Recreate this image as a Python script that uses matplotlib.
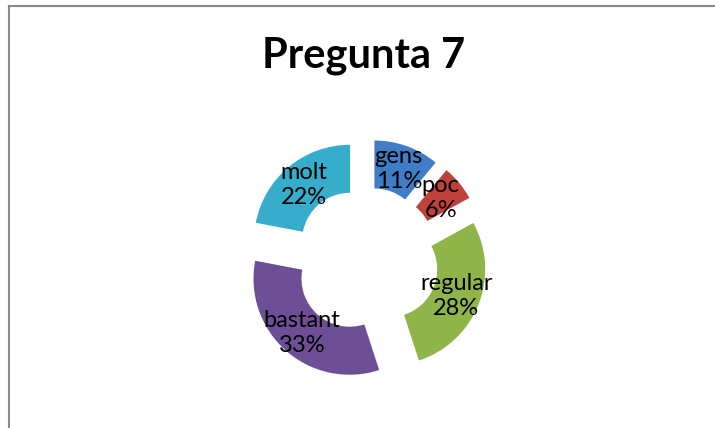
import matplotlib
matplotlib.use("Agg")
import matplotlib.pyplot as plt
from matplotlib.lines import Line2D

# data
categories = ["gens", "poc", "regular", "bastant", "molt"]
values = [11, 6, 28, 33, 22]
colors = ["#3F7DC6", "#C0403C", "#8FB54A", "#6E4F96", "#35ADCB"]

W, H = 715, 428
R = 96.0              # outer radius in px
cx, cy = 366, 260     # donut centre (px from top-left)

fig = plt.figure(figsize=(W / 100, H / 100), dpi=100)
fig.patch.set_facecolor("white")
ax = fig.add_axes([0, 0, 1, 1])

labels = [f"{c}\n{v}%" for c, v in zip(categories, values)]
wedges, texts = ax.pie(values, colors=colors, startangle=90, counterclock=False,
                       explode=[0.26] * len(values), radius=1.0,
                       labels=labels, labeldistance=0.75,
                       wedgeprops=dict(width=0.5, edgecolor="none"),
                       textprops=dict(fontsize=17, family="Lato", color="black"))
for t in texts:
    t.set_ha("center")
    t.set_va("center")
    t.set_linespacing(1.25)

# pie() resets the limits, so set them afterwards
ax.set_xlim(-cx / R, (W - cx) / R)
ax.set_ylim(-(H - cy) / R, cy / R)
ax.set_aspect("equal")
ax.axis("off")

fig.text(364 / W, 1 - 56 / H, "Pregunta 7", ha="center", va="center",
         fontsize=30, fontweight="bold", family="Lato")

# chart area border (left and top edges visible)
fig.add_artist(Line2D([8.5 / W, 8.5 / W], [0, 1 - 5.5 / H], transform=fig.transFigure,
                      color="#8a8a8a", lw=1.5))
fig.add_artist(Line2D([8.5 / W, 1], [1 - 5.5 / H, 1 - 5.5 / H], transform=fig.transFigure,
                      color="#8a8a8a", lw=1.5))

fig.savefig("out.png", dpi=100, facecolor="white")
